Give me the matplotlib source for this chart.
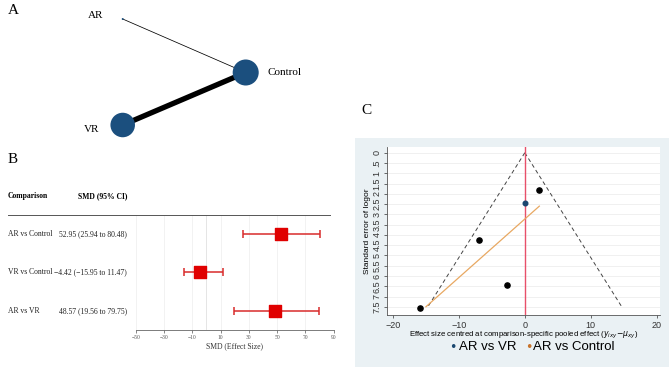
import numpy as np
import matplotlib.pyplot as plt
import matplotlib.transforms as mtransforms

# ---- data ----
# panel A: network
nodes = ["AR", "Control", "VR"]
node_size = [1, 9, 8]            # relative node size
edges = [("AR", "Control"), ("VR", "Control")]
edge_weight = [1, 7]

# panel B: forest plot
comparisons = ["AR vs Control", "VR vs Control", "AR vs VR"]
smd = [52.95, -4.42, 48.57]
ci_low = [25.94, -15.95, 19.56]
ci_high = [80.48, 11.47, 79.75]
forest_ticks = [-50, -30, -10, 10, 30, 50, 70, 90]

# panel C: comparison-adjusted funnel plot
funnel_x = [2.2, -6.9, -2.7, -15.9]
funnel_se = [1.8, 4.25, 6.45, 7.55]
blue_x = [0.0]
blue_se = [2.45]
fit_x = [-15.0, 2.2]
fit_se = [7.5, 2.6]
se_max = 7.5
c_yticks = np.arange(0, 8, 0.5)
c_ylabels = ["0", ".5", "1", "1.5", "2", "2.5", "3", "3.5", "4", "4.5",
             "5", "5.5", "6", "6.5", "7", "7.5"]
c_xticks = [-20, -10, 0, 10, 20]

W, H = 669, 367
fig = plt.figure(figsize=(W / 100, H / 100), dpi=100)
fig.patch.set_facecolor("white")


def ax_px(left, top, width, height):
    return fig.add_axes([left / W, 1 - (top + height) / H, width / W, height / H])


def ftext(x, y, s, **kw):
    fig.text(x / W, 1 - y / H, s, **kw)


serif = "Liberation Serif"
sans = "Liberation Sans"

# ---------------- panel A ----------------
ftext(8, 10, "A", fontsize=11, family=serif, va="center")
axA = ax_px(0, 0, 330, 150)
axA.set_xlim(0, 330)
axA.set_ylim(150, 0)
axA.axis("off")
pos = {"AR": (122.7, 19), "Control": (245.7, 72.5), "VR": (122.7, 125)}
for (a, b), w in zip(edges, edge_weight):
    axA.plot([pos[a][0], pos[b][0]], [pos[a][1], pos[b][1]], color="black",
             lw=0.55 * w, solid_capstyle="butt", zorder=1)
for n, s in zip(nodes, node_size):
    axA.scatter(*pos[n], s=s * 39 if s > 1 else 2, color="#1b4f7e", zorder=2,
                edgecolors="none")
axA.text(96, 16, "AR", fontsize=8, family=serif, ha="center", va="center")
axA.text(268, 72.5, "Control", fontsize=8, family=serif, ha="left", va="center")
axA.text(92, 129, "VR", fontsize=8, family=serif, ha="center", va="center")

# ---------------- panel B ----------------
ftext(8, 159, "B", fontsize=11, family=serif, va="center")
axB = ax_px(135.7, 215, 197.9, 115)
axB.set_xlim(-50, 90)
axB.set_ylim(0.5, 3.5)
rows = np.arange(len(comparisons), 0, -1)
for t in forest_ticks:
    axB.axvline(t, color="#f0f0f0", lw=0.6, zorder=0)
axB.axvline(0, color="#e0e0e0", lw=0.6, zorder=0)
err = [np.array(smd) - np.array(ci_low), np.array(ci_high) - np.array(smd)]
axB.errorbar(smd, rows, xerr=err, fmt="none", ecolor="#d92b2b", elinewidth=1.1,
             capsize=2.9, capthick=1.1, zorder=2)
axB.scatter(smd, rows, marker="s", s=80, color="#e00000", zorder=3)
for sp in ["top", "right", "left"]:
    axB.spines[sp].set_visible(False)
axB.spines["bottom"].set_color("#666666")
axB.spines["bottom"].set_linewidth(0.6)
axB.set_yticks([])
axB.set_xticks(forest_ticks)
axB.set_xticklabels([str(t).replace("-", "\u2212") for t in forest_ticks])
axB.tick_params(axis="x", labelsize=4, colors="#555555", length=2, width=0.5, pad=1.5)
for lab in axB.get_xticklabels():
    lab.set_family(serif)
axB.set_xlabel("SMD (Effect Size)", fontsize=5.5, family=serif, labelpad=1.5,
               color="#333333")
tr = mtransforms.blended_transform_factory(fig.transFigure, axB.transData)
for r, name, m, lo, hi in zip(rows, comparisons, smd, ci_low, ci_high):
    axB.text(8 / W, r, name, transform=tr, fontsize=5.5, family=serif,
             ha="left", va="center", color="#222222")
    s = f"{m:.2f} ({lo:.2f} to {hi:.2f})".replace("-", "\u2212")
    axB.text(127 / W, r, s, transform=tr, fontsize=5.5, family=serif,
             ha="right", va="center", color="#222222")
ftext(8, 196.5, "Comparison", fontsize=5.5, family=serif, weight="bold", va="center")
ftext(127, 196.5, "SMD (95% CI)", fontsize=5.5, family=serif, weight="bold",
      va="center", ha="right")
fig.add_artist(plt.Line2D([8 / W, 330 / W], [1 - 215 / H, 1 - 215 / H],
                          color="#555555", lw=0.7))

# ---------------- panel C ----------------
ftext(366, 110, "C", fontsize=11, family=serif, ha="center", va="center")
bg = ax_px(355, 138, 314, 229)
bg.set_facecolor("#eaf1f4")
bg.set_xticks([])
bg.set_yticks([])
for sp in bg.spines.values():
    sp.set_visible(False)

axC = ax_px(387, 147, 273, 168)
axC.set_facecolor("white")
axC.set_xlim(-20.9, 20.5)
axC.set_ylim(7.9, -0.28)
for yv in c_yticks:
    axC.axhline(yv, color="#eeeeee", lw=0.6, zorder=0)
axC.plot([0, -1.96 * se_max], [0, se_max], ls=(0, (4, 3)), color="#444444", lw=0.7)
axC.plot([0, 1.96 * se_max], [0, se_max], ls=(0, (4, 3)), color="#444444", lw=0.7)
axC.axvline(0, color="#e8506a", lw=1.0, zorder=2)
axC.plot(fit_x, fit_se, color="#e8a862", lw=0.9, zorder=3)
axC.scatter(funnel_x, funnel_se, s=14, color="black", zorder=4)
axC.scatter(blue_x, blue_se, s=11, color="#1a476f", zorder=4)
for sp in ["top", "right"]:
    axC.spines[sp].set_visible(False)
for sp in ["left", "bottom"]:
    axC.spines[sp].set_color("#555555")
    axC.spines[sp].set_linewidth(0.6)
axC.set_yticks(c_yticks)
axC.set_yticklabels(c_ylabels, rotation=90, va="center")
axC.set_xticks(c_xticks)
axC.tick_params(labelsize=6.5, length=2.5, width=0.5, pad=1.5, colors="#333333")
for lab in axC.get_xticklabels() + axC.get_yticklabels():
    lab.set_family(sans)
axC.set_ylabel("Standard error of logor", fontsize=6, family=sans, labelpad=1)
axC.set_xlabel("Effect size centred at comparison-specific pooled effect "
               r"($y_{ixy}$$-$$\mu_{xy}$)", fontsize=5.6, family=sans, labelpad=0.5)

ftext(453, 348, "\u2022", fontsize=9, color="#1a476f", ha="center", va="center")
ftext(459, 347, "AR vs VR", fontsize=9.5, family=sans, va="center")
ftext(529, 348, "\u2022", fontsize=9, color="#c8742c", ha="center", va="center")
ftext(533, 347, "AR vs Control", fontsize=9.5, family=sans, va="center")

fig.savefig("out.png", dpi=100)
